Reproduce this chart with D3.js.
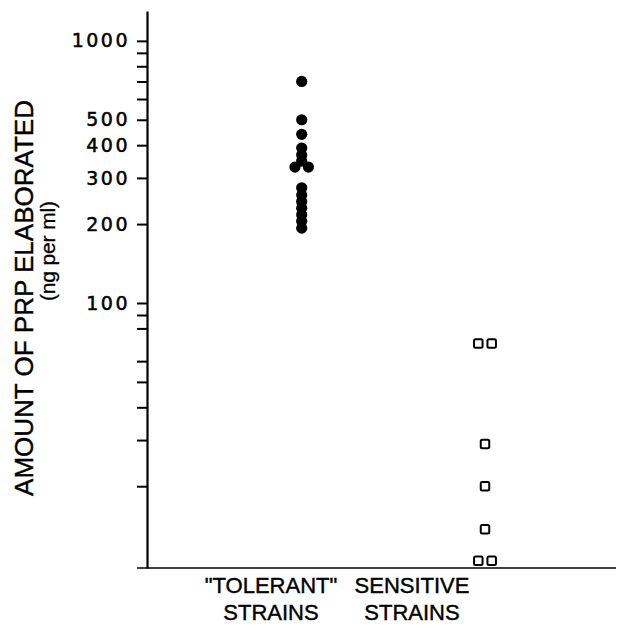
<!DOCTYPE html>
<html>
<head>
<meta charset="utf-8">
<script src="https://cdn.jsdelivr.net/npm/d3@7"></script>
<style>
  body { margin: 0; background: #fff; }
  svg { display: block; font-family: "Liberation Sans", Arial, sans-serif; }
</style>
</head>
<body>
<div id="chart"></div>
<script>
const categories = ["tolerant", "sensitive"];
const categoryLabels = [['"TOLERANT"', 'STRAINS'], ['SENSITIVE', 'STRAINS']];

// values in ng per ml, slot = side-by-side position inside a cluster
const tolerantValues = [700, 500, 440, 390, 367, 348, 330, 330, 275, 258, 244, 230, 217, 205, 193];
const tolerantSlots  = [0, 0, 0, 0, 0, 0, -1, 1, 0, 0, 0, 0, 0, 0, 0];
const sensitiveValues = [70, 70, 29, 20, 13.7, 10.4, 10.4];
const sensitiveSlots  = [-1, 1, 0, 0, 0, -1, 1];

const majorTicks = [100, 200, 300, 400, 500, 1000];
const minorTicks = [20, 30, 40, 50, 60, 80, 90, 600, 700, 800, 900];

const width = 622, height = 633;
const svg = d3.select('#chart').append('svg')
    .attr('width', width)
    .attr('height', height);

const y = d3.scaleLog()
    .domain([9.75, 1300])
    .range([568, 11]);

const x = d3.scalePoint()
    .domain(categories)
    .range([301.7, 485]);

const xLabel = d3.scalePoint()
    .domain(categories)
    .range([271, 412]);

const slotStep = 6.7;

// y axis
const majorSet = new Set(majorTicks);
const yAxis = d3.axisLeft(y)
    .tickValues(majorTicks.concat(minorTicks))
    .tickSize(10)
    .tickSizeOuter(0)
    .tickPadding(7)
    .tickFormat(d => majorSet.has(d) ? d : '');

const yg = svg.append('g')
    .attr('transform', 'translate(147,0)')
    .call(yAxis);
yg.select('.domain').attr('stroke', '#000').attr('stroke-width', 2.2);
yg.selectAll('.tick line').attr('stroke', '#000').attr('stroke-width', 2);
yg.selectAll('.tick text')
    .attr('fill', '#000')
    .attr('stroke', '#000')
    .attr('stroke-width', 0.5)
    .style('font-family', '"DejaVu Sans", sans-serif')
    .style('font-size', '19px')
    .style('letter-spacing', '2.5px');

// x axis baseline
svg.append('line')
    .attr('x1', 137)
    .attr('x2', 616)
    .attr('y1', y.range()[0])
    .attr('y2', y.range()[0])
    .attr('stroke', '#000')
    .attr('stroke-width', 1.6);

// category labels
categories.forEach((c, i) => {
    const t = svg.append('text')
        .attr('text-anchor', 'middle')
        .attr('fill', '#000')
        .attr('stroke', '#000')
        .attr('stroke-width', 0.4)
        .style('font-size', '22px');
    categoryLabels[i].forEach((line, j) => {
        t.append('tspan')
            .attr('x', xLabel(c))
            .attr('y', 593 + j * 27)
            .text(line);
    });
});

// y title
svg.append('text')
    .attr('transform', `translate(33,298) rotate(-90)`)
    .attr('text-anchor', 'middle')
    .attr('fill', '#000')
    .attr('stroke', '#000')
    .attr('stroke-width', 0.4)
    .style('font-size', '26px')
    .text('AMOUNT OF PRP ELABORATED');
svg.append('text')
    .attr('transform', `translate(55,251) rotate(-90)`)
    .attr('text-anchor', 'middle')
    .attr('fill', '#000')
    .attr('stroke', '#000')
    .attr('stroke-width', 0.3)
    .attr('textLength', 100)
    .style('font-size', '21px')
    .text('(ng per ml)');

// tolerant strains: filled dots
svg.append('g').selectAll('circle')
    .data(tolerantValues)
    .join('circle')
    .attr('cx', (d, i) => x('tolerant') + tolerantSlots[i] * slotStep)
    .attr('cy', d => y(d))
    .attr('r', 5.6)
    .attr('fill', '#000');

// sensitive strains: open squares
const sq = 8.5;
svg.append('g').selectAll('rect')
    .data(sensitiveValues)
    .join('rect')
    .attr('x', (d, i) => x('sensitive') + sensitiveSlots[i] * slotStep - sq / 2)
    .attr('y', d => y(d) - sq / 2)
    .attr('width', sq)
    .attr('height', sq)
    .attr('rx', 1.5)
    .attr('fill', '#fff')
    .attr('stroke', '#000')
    .attr('stroke-width', 2);
</script>
</body>
</html>
